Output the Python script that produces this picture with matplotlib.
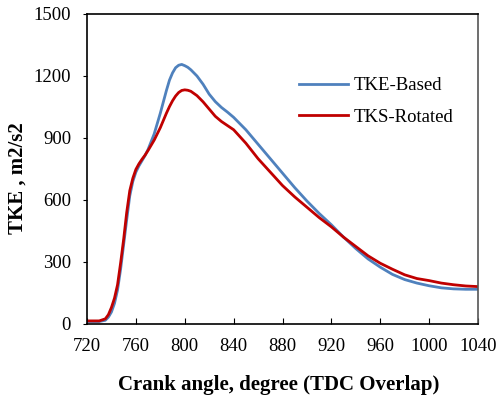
import numpy as np
import matplotlib
matplotlib.use("Agg")
import matplotlib.pyplot as plt

# crank angle (deg) and turbulent kinetic energy (m2/s2)
crank = [720, 725, 730, 735, 737.5, 740, 742.5, 745, 747.5, 750, 752.5, 755,
         757.5, 760, 762.5, 765, 767.5, 770, 775, 780, 785, 787.5, 790, 792.5,
         795, 797.5, 800, 802.5, 805, 810, 815, 820, 825, 830, 835, 840, 850,
         860, 870, 880, 890, 900, 910, 920, 930, 940, 950, 960, 970, 980, 990,
         1000, 1010, 1020, 1030, 1040]
tke_based = [12, 12, 12, 18, 33, 58, 100, 165, 265, 385, 505, 620,
             690, 735, 765, 790, 815, 845, 920, 1020, 1130, 1180, 1215, 1240,
             1252, 1256, 1250, 1242, 1230, 1200, 1160, 1112, 1076, 1048, 1025, 1000, 940,
             870, 800, 730, 660, 595, 535, 480, 420, 365, 315, 275, 240, 215, 198,
             185, 175, 170, 168, 168]
tks_rotated = [15, 15, 15, 25, 45, 80, 125, 190, 295, 410, 540, 645,
               705, 748, 775, 797, 817, 840, 890, 950, 1020, 1052, 1080, 1103,
               1120, 1130, 1133, 1131, 1126, 1105, 1075, 1040, 1005, 980, 960, 940, 875,
               800, 735, 670, 615, 565, 515, 470, 420, 375, 330, 294, 265, 238, 220,
               210, 198, 190, 184, 181]

xticks = [720, 760, 800, 840, 880, 920, 960, 1000, 1040]
yticks = [0, 300, 600, 900, 1200, 1500]

plt.rcParams['font.family'] = ['Liberation Serif', 'DejaVu Serif']

fig = plt.figure(figsize=(4.97, 3.98), dpi=100)
ax = fig.add_axes([87/497, 74/398, 391/497, 310/398])

ax.plot(crank, tke_based, color='#4F81BD', lw=2.0, label='TKE-Based')
ax.plot(crank, tks_rotated, color='#C00000', lw=2.0, label='TKS-Rotated')

ax.set_xlim(720, 1040)
ax.set_ylim(0, 1500)
ax.set_xticks(xticks)
ax.set_yticks(yticks)
ax.tick_params(axis='x', direction='in', length=4, labelsize=13.5, pad=10)
ax.tick_params(axis='y', direction='out', length=3, labelsize=13.5, pad=8.5)

for s in ['left', 'bottom', 'top']:
    ax.spines[s].set_color('black')
    ax.spines[s].set_linewidth(1.2)
ax.spines['right'].set_color('#555555')
ax.spines['right'].set_linewidth(1.2)

ax.set_xlabel('Crank angle, degree (TDC Overlap)', fontsize=15, fontweight='bold')
ax.xaxis.set_label_coords(0.49, -0.165)
ax.set_ylabel('TKE , m2/s2', fontsize=15, fontweight='bold')
ax.yaxis.set_label_coords(-0.151, 0.47)

ax.legend(loc='upper left', bbox_to_anchor=(0.5, 0.85), frameon=False, fontsize=13.5,
          handlelength=2.6, handletextpad=0.3, labelspacing=0.75)

fig.savefig('out.png', dpi=100)
